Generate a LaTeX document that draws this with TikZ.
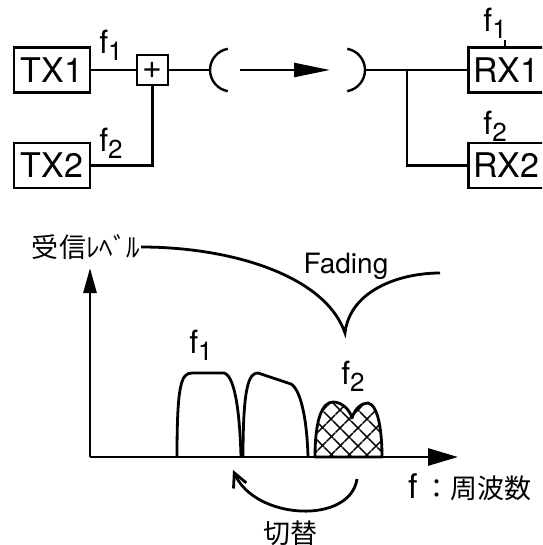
\documentclass[tikz,border=0pt]{standalone}
\usepackage{fontspec}
\setmainfont{TeX Gyre Heros}
\newfontfamily\jpfont{Noto Sans CJK JP}
\usepackage{tikz}
\usetikzlibrary{arrows.meta, patterns.meta, calc}
\newcommand{\fsub}[1]{f\raisebox{-0.45ex}{\fontsize{13}{14}\selectfont #1}}

\begin{document}
\begin{tikzpicture}[
  x=0.5pt, y=-0.5pt,
  line width=1.2pt,
  every node/.style={font=\fontsize{17}{19}\selectfont, inner sep=0pt},
  unit/.style={
    draw, rectangle, line width=1.2pt,
    minimum width=38pt, minimum height=22.5pt
  },
  adder/.style={draw, rectangle, minimum width=15.5pt, minimum height=15pt},
  freq/.style={font=\fontsize{16}{18}\selectfont},
  jptext/.style={font=\jpfont\fontsize{13.5}{15}\selectfont},
  band/.style={line width=1.4pt, line join=round},
  hatch/.style={
    preaction={pattern={Lines[angle=45, distance=6.5pt, line width=0.9pt]}},
    pattern={Lines[angle=-45, distance=6.5pt, line width=0.9pt]}
  },
]
\useasboundingbox (0,0) rectangle (542,545);
\clip (0,0) rectangle (542,545);

% === TRANSMITTER SIDE ===
\node[unit] (tx1) at (52,70) {TX1};
\node[unit] (tx2) at (52,165.5) {TX2};
\node[adder] (sum) at (152.5,70) {+};

\node[freq, anchor=south] (tfa) at (111,62) {\fsub1};
\node[freq, anchor=south] (tfb) at (111,160) {\fsub2};

\draw (tx1.east) -- (sum.west);
\draw (tx2.east) -| (sum.south);

% === ANTENNAS AND PATH ===
\coordinate (antL) at (210,70);
\coordinate (antR) at (365,70);
\coordinate (waveA) at (240,70);
\coordinate (waveB) at (330,70);

\draw (sum.east) -- (antL);
\draw (antL) arc[start angle=180, end angle=100, radius=10.75pt];
\draw (antL) arc[start angle=180, end angle=260, radius=10.75pt];
\draw (antR) arc[start angle=0, end angle=80, radius=10.75pt];
\draw (antR) arc[start angle=0, end angle=-80, radius=10.75pt];
\draw[-{Triangle[length=18pt, width=7pt]}] (waveA) -- (waveB);

% === RECEIVER SIDE ===
\node[unit] (rx1) at (506.5,70) {RX1};
\node[unit] (rx2) at (506.5,165.5) {RX2};

\node[freq, anchor=south east] (rfa) at (508,40) {\fsub1};
\node[freq, anchor=south east] (rfb) at (508,143) {\fsub2};
\draw (rfa.south east) ++(-3,0) coordinate (rfl) -- (rfl |- rx1.north);

\coordinate (split) at (407,70);
\draw (antR) -- (rx1.west);
\draw (split) |- (rx2.west);

% === SPECTRUM AXES ===
\coordinate (origin) at (90,457);
\coordinate (ytop) at (90,268);
\coordinate (xend) at (458,457);
\draw[line width=1.4pt, -{Triangle[length=12.5pt, width=6.5pt]}] (origin) -- (ytop);
\draw[line width=1.4pt, -{Triangle[length=15pt, width=8.5pt]}] (origin) -- (xend);

\node[jptext] (level) at (86,247) {受信ﾚﾍﾞﾙ};
\node (faxis) at (470,487) {f\,{\jpfont\fontsize{13.5}{15}\selectfont ：周波数}};

% === FADING CURVE ===
\coordinate (cusp) at (345,333);
\coordinate (fadeR) at (440,273);
\draw[line width=1.4pt] (level.east) .. controls (230,247) and (325,275) .. (cusp)
  .. controls (350,290) and (400,273) .. (fadeR);
\node[font=\fontsize{14}{16}\selectfont] (fade) at (346,266) {Fading};

% === BANDS ===
\draw[band] (177,457) .. controls (177,385) and (181,373) .. (192,373)
  -- (224,373) .. controls (236,376) and (240,420) .. (241,457);
\draw[band] (243,457) .. controls (243,385) and (249,373) .. (258,373)
  -- (291,384) .. controls (301,390) and (307,420) .. (308,457);
\draw[band, hatch] (315,457) .. controls (315,420) and (322,402) .. (333,402)
  .. controls (342,402) and (350,410) .. (352,418)
  .. controls (355,408) and (362,403) .. (368,403)
  .. controls (378,405) and (382,430) .. (382,457) -- cycle;

\node[freq, anchor=south] (bfa) at (201,362) {\fsub1};
\node[freq, anchor=south] (bfb) at (353,393) {\fsub2};

% === SWITCHING ===
\coordinate (swFrom) at (357,479);
\coordinate (swTo) at (233,470);
\draw[line width=1.4pt, -{Straight Barb[length=7pt, width=7pt]}]
  (swFrom) .. controls (350,525) and (255,520) .. (swTo);
\node[jptext] (switch) at (290,533) {切替};

\end{tikzpicture}
\end{document}
